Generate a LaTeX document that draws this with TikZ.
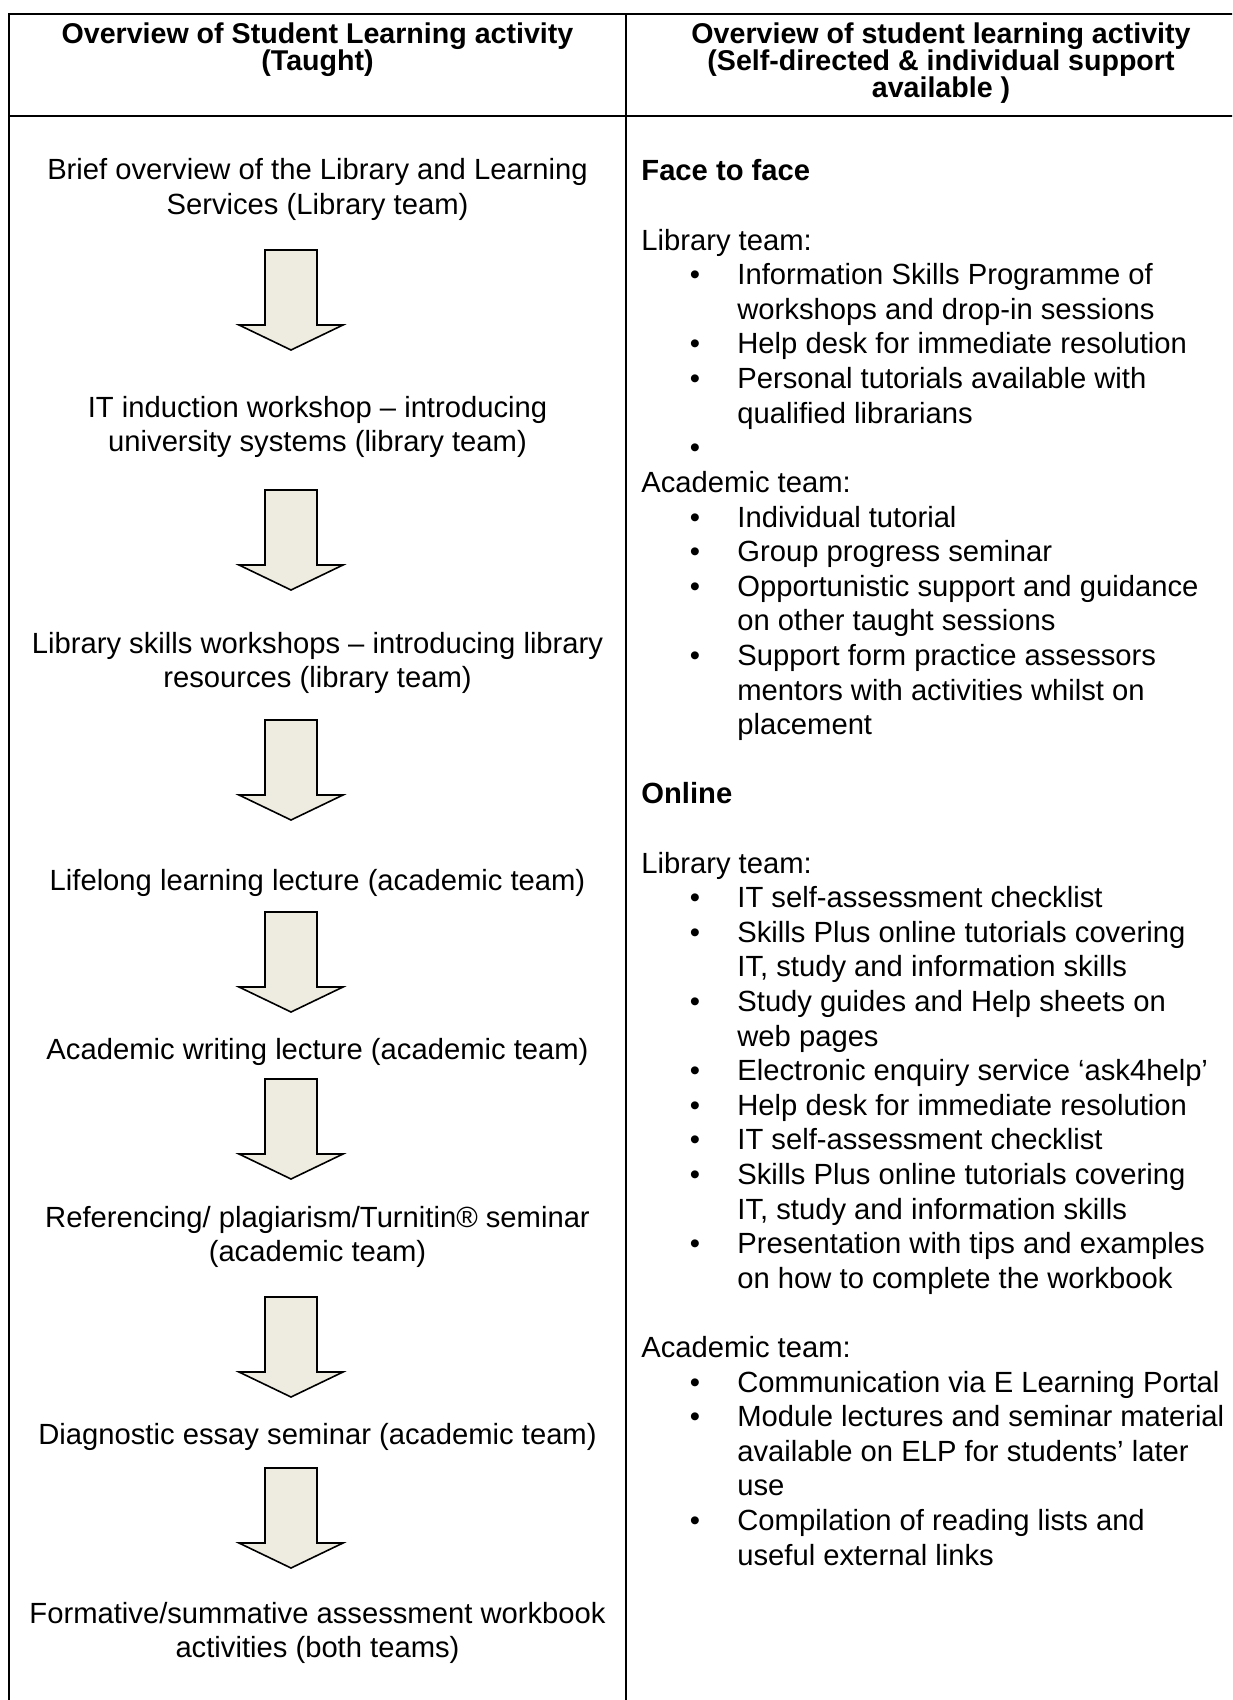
\documentclass[tikz,border=0pt]{standalone}
\usepackage{fontspec}
\setmainfont{Liberation Sans}
\definecolor{arrowfill}{HTML}{EEECE1}
\newcommand\RLine[3]{\node[rtext] (#2) at (641,{181+34.6*#1}) {#3};}
\newcommand\RHead[3]{\node[rhead] (#2) at (641,{181+34.6*#1}) {#3};}
\newcommand\RBul[3]{\node[bul] (#2b) at (695,{181+34.6*#1}) {•};\node[rtext] (#2) at (737,{181+34.6*#1}) {#3};}
\newcommand\RCont[3]{\node[rtext] (#2) at (737,{181+34.6*#1}) {#3};}
\begin{document}
\begin{tikzpicture}[x=0.5pt,y=-0.5pt]
\tikzset{
  rule/.style={line width=1pt, black, line cap=rect},
  hdr/.style={inner sep=0pt, anchor=base, font=\fontsize{14.3pt}{16pt}\bfseries\selectfont},
  ltext/.style={inner sep=0pt, anchor=base, font=\fontsize{14.6pt}{17.3pt}\selectfont},
  rtext/.style={inner sep=0pt, anchor=base west, font=\fontsize{14.6pt}{17.3pt}\selectfont},
  rhead/.style={rtext, font=\fontsize{14.6pt}{17.3pt}\bfseries\selectfont},
  bul/.style={inner sep=0pt, anchor=base, font=\fontsize{14.6pt}{17.3pt}\selectfont},
  arrowbox/.style={draw=black, fill=arrowfill, line width=0.8pt, line join=miter},
  blockarrow/.pic={\path[arrowbox] (-26,0) -- (26,0) -- (26,75) -- (52,75) -- (0,100) -- (-52,75) -- (-26,75) -- cycle;}
}
\useasboundingbox (0,0) rectangle (1232,1700);
\fill[white] (0,0) rectangle (1232,1700);
\clip (0,0) rectangle (1232,1700);

% table rules
\coordinate (tl) at (9,14);
\coordinate (tr) at (1250,14);
\coordinate (hl) at (9,116);
\coordinate (hr) at (1250,116);
\coordinate (bl) at (9,1710);
\coordinate (mt) at (626,14);
\coordinate (mb) at (626,1710);
\draw[rule] (tl) -- (tr);
\draw[rule] (hl) -- (hr);
\draw[rule] (tl) -- (bl);
\draw[rule] (mt) -- (mb);

% header
\node[hdr] (h1a) at (317.5,44) {Overview of Student Learning activity};
\node[hdr] (h1b) at (317.5,71) {(Taught)};
\node[hdr] (h2a) at (941,44) {Overview of student learning activity};
\node[hdr] (h2b) at (941,71) {(Self-directed \& individual support};
\node[hdr] (h2c) at (941,98) {available )};

% left column
\node[ltext] (l1a) at (317.5,180) {Brief overview of the Library and Learning};
\node[ltext] (l1b) at (317.5,214.6) {Services (Library team)};
\pic at (291,250) {blockarrow};
\node[ltext] (l2a) at (317.5,417) {IT induction workshop – introducing};
\node[ltext] (l2b) at (317.5,451.6) {university systems (library team)};
\pic at (291,490) {blockarrow};
\node[ltext] (l3a) at (317.5,653) {Library skills workshops – introducing library};
\node[ltext] (l3b) at (317.5,687.6) {resources (library team)};
\pic at (291,720) {blockarrow};
\node[ltext] (l4) at (317.5,890) {Lifelong learning lecture (academic team)};
\pic at (291,912) {blockarrow};
\node[ltext] (l5) at (317.5,1059) {Academic writing lecture (academic team)};
\pic at (291,1079) {blockarrow};
\node[ltext] (l6a) at (317.5,1227) {Referencing/ plagiarism/Turnitin® seminar};
\node[ltext] (l6b) at (317.5,1261.6) {(academic team)};
\pic at (291,1297) {blockarrow};
\node[ltext] (l7) at (317.5,1444) {Diagnostic essay seminar (academic team)};
\pic at (291,1468) {blockarrow};
\node[ltext] (l8a) at (317.5,1623) {Formative/summative assessment workbook};
\node[ltext] (l8b) at (317.5,1657.6) {activities (both teams)};

% right column
\RHead{0}{r0}{Face to face}
\RLine{2}{r2}{Library team:}
\RBul{3}{r3}{Information Skills Programme of}
\RCont{4}{r4}{workshops and drop-in sessions}
\RBul{5}{r5}{Help desk for immediate resolution}
\RBul{6}{r6}{Personal tutorials available with}
\RCont{7}{r7}{qualified librarians}
\node[bul] (r8b) at (695,{181+34.6*8}) {•};
\RLine{9}{r9}{Academic team:}
\RBul{10}{r10}{Individual tutorial}
\RBul{11}{r11}{Group progress seminar}
\RBul{12}{r12}{Opportunistic support and guidance}
\RCont{13}{r13}{on other taught sessions}
\RBul{14}{r14}{Support form practice assessors}
\RCont{15}{r15}{mentors with activities whilst on}
\RCont{16}{r16}{placement}
\RHead{18}{r18}{Online}
\RLine{20}{r20}{Library team:}
\RBul{21}{r21}{IT self-assessment checklist}
\RBul{22}{r22}{Skills Plus online tutorials covering}
\RCont{23}{r23}{IT, study and information skills}
\RBul{24}{r24}{Study guides and Help sheets on}
\RCont{25}{r25}{web pages}
\RBul{26}{r26}{Electronic enquiry service ‘ask4help’}
\RBul{27}{r27}{Help desk for immediate resolution}
\RBul{28}{r28}{IT self-assessment checklist}
\RBul{29}{r29}{Skills Plus online tutorials covering}
\RCont{30}{r30}{IT, study and information skills}
\RBul{31}{r31}{Presentation with tips and examples}
\RCont{32}{r32}{on how to complete the workbook}
\RLine{34}{r34}{Academic team:}
\RBul{35}{r35}{Communication via E Learning Portal}
\RBul{36}{r36}{Module lectures and seminar material}
\RCont{37}{r37}{available on ELP for students’ later}
\RCont{38}{r38}{use}
\RBul{39}{r39}{Compilation of reading lists and}
\RCont{40}{r40}{useful external links}
\end{tikzpicture}
\end{document}
